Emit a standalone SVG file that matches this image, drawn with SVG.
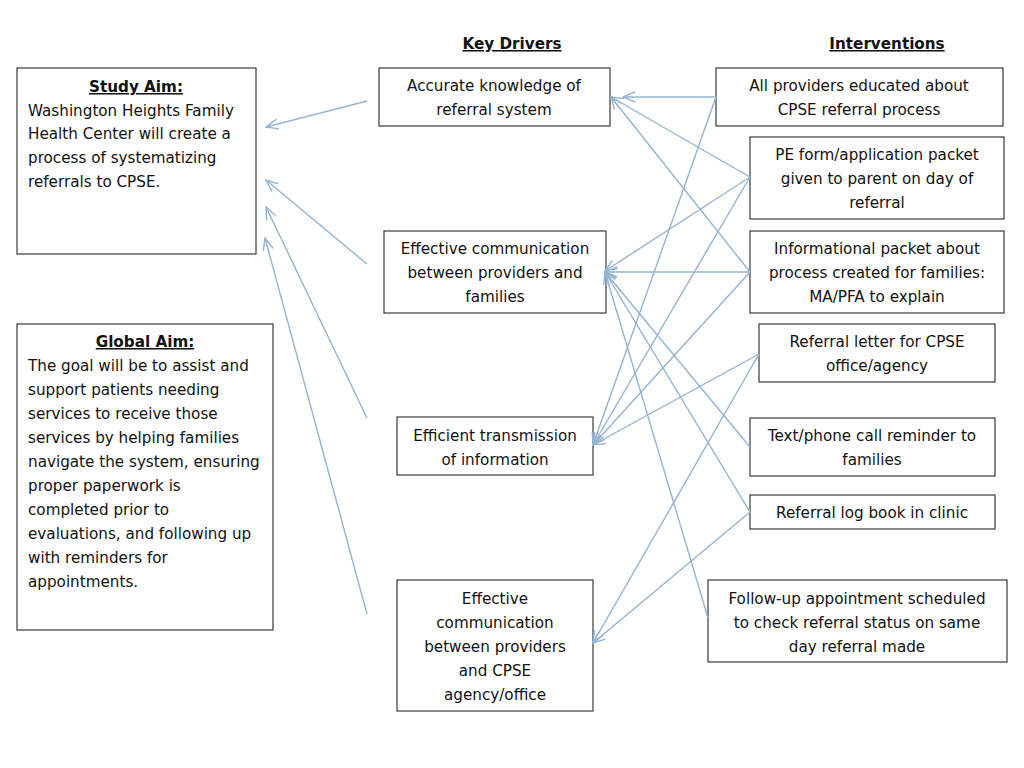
<svg xmlns="http://www.w3.org/2000/svg" width="1024" height="768" viewBox="0 0 1024 768">
<defs>
<marker id="ah" markerWidth="14" markerHeight="12" refX="13" refY="6" orient="auto" markerUnits="userSpaceOnUse">
<path d="M1,1 L13,6 L1,11" fill="none" stroke="#94b4d2" stroke-width="1.4"/>
</marker>
</defs>
<style>
rect{fill:#fff;stroke:#3a3a3a;stroke-width:1.2}
text{font-family:"DejaVu Sans","Liberation Sans",sans-serif;font-size:15.2px;fill:#111}
.c{text-anchor:middle}
.h{font-weight:bold;text-decoration:underline}
#connectors line{stroke:#94b4d2;stroke-width:1.4;marker-end:url(#ah)}
</style>
<rect x="0" y="0" width="1024" height="768" style="stroke:none"/>
<text class="c h" x="512" y="49">Key Drivers</text>
<text class="c h" x="887" y="49">Interventions</text>

<g id="study-aim"><rect x="17" y="68" width="239" height="186"/>
<text class="c h" x="136" y="92">Study Aim:</text>
<text x="28" y="116">Washington Heights Family</text>
<text x="28" y="139">Health Center will create a</text>
<text x="28" y="163">process of systematizing</text>
<text x="28" y="187">referrals to CPSE.</text></g>

<g id="global-aim"><rect x="17" y="324" width="256" height="306"/>
<text class="c h" x="145" y="347">Global Aim:</text>
<text x="28" y="371">The goal will be to assist and</text>
<text x="28" y="395">support patients needing</text>
<text x="28" y="419">services to receive those</text>
<text x="28" y="443">services by helping families</text>
<text x="28" y="467">navigate the system, ensuring</text>
<text x="28" y="491">proper paperwork is</text>
<text x="28" y="515">completed prior to</text>
<text x="28" y="539">evaluations, and following up</text>
<text x="28" y="563">with reminders for</text>
<text x="28" y="587">appointments.</text></g>

<g id="kd-accurate"><rect x="379" y="68" width="231" height="58"/>
<text class="c" x="494" y="91">Accurate knowledge of</text>
<text class="c" x="494" y="115">referral system</text></g>

<g id="kd-families"><rect x="384" y="231" width="222" height="82"/>
<text class="c" x="495" y="254">Effective communication</text>
<text class="c" x="495" y="278">between providers and</text>
<text class="c" x="495" y="302">families</text></g>

<g id="kd-transmission"><rect x="397" y="417" width="196" height="58"/>
<text class="c" x="495" y="441">Efficient transmission</text>
<text class="c" x="495" y="465">of information</text></g>

<g id="kd-cpse"><rect x="397" y="580" width="196" height="131"/>
<text class="c" x="495" y="604">Effective</text>
<text class="c" x="495" y="628">communication</text>
<text class="c" x="495" y="652">between providers</text>
<text class="c" x="495" y="676">and CPSE</text>
<text class="c" x="495" y="700">agency/office</text></g>

<g id="iv-educated"><rect x="716" y="68" width="287" height="58"/>
<text class="c" x="859" y="91">All providers educated about</text>
<text class="c" x="859" y="115">CPSE referral process</text></g>

<g id="iv-peform"><rect x="750" y="137" width="254" height="82"/>
<text class="c" x="877" y="160">PE form/application packet</text>
<text class="c" x="877" y="184">given to parent on day of</text>
<text class="c" x="877" y="208">referral</text></g>

<g id="iv-packet"><rect x="750" y="231" width="254" height="82"/>
<text class="c" x="877" y="254">Informational packet about</text>
<text class="c" x="877" y="278">process created for families:</text>
<text class="c" x="877" y="302">MA/PFA to explain</text></g>

<g id="iv-letter"><rect x="759" y="324" width="236" height="58"/>
<text class="c" x="877" y="347">Referral letter for CPSE</text>
<text class="c" x="877" y="371">office/agency</text></g>

<g id="iv-reminder"><rect x="750" y="418" width="245" height="58"/>
<text class="c" x="872" y="441">Text/phone call reminder to</text>
<text class="c" x="872" y="465">families</text></g>

<g id="iv-logbook"><rect x="750" y="495" width="245" height="34"/>
<text class="c" x="872" y="518">Referral log book in clinic</text></g>

<g id="iv-followup"><rect x="708" y="580" width="299" height="82"/>
<text class="c" x="857" y="604">Follow-up appointment scheduled</text>
<text class="c" x="857" y="628">to check referral status on same</text>
<text class="c" x="857" y="652">day referral made</text></g>

<g id="connectors">
<line x1="367" y1="101" x2="266" y2="127"/>
<line x1="367" y1="264" x2="266" y2="180"/>
<line x1="367" y1="418" x2="266" y2="207"/>
<line x1="367" y1="614" x2="265" y2="238"/>
<line x1="716" y1="97" x2="623" y2="97"/>
<line x1="716" y1="97" x2="593" y2="445"/>
<line x1="750" y1="177" x2="611" y2="97"/>
<line x1="750" y1="177" x2="605" y2="271"/>
<line x1="750" y1="177" x2="593" y2="445"/>
<line x1="750" y1="272" x2="611" y2="97"/>
<line x1="750" y1="272" x2="605" y2="272"/>
<line x1="750" y1="272" x2="593" y2="445"/>
<line x1="759" y1="354" x2="593" y2="445"/>
<line x1="759" y1="354" x2="593" y2="643"/>
<line x1="750" y1="447" x2="605" y2="272"/>
<line x1="750" y1="512" x2="605" y2="272"/>
<line x1="750" y1="512" x2="593" y2="643"/>
<line x1="708" y1="618" x2="605" y2="272"/>
</g>
</svg>
